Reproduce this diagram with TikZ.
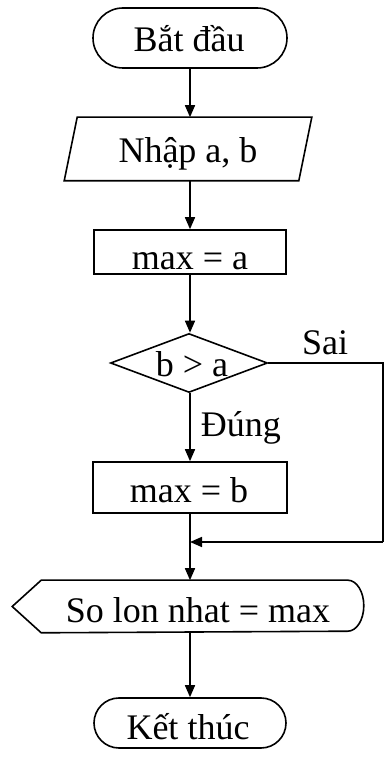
\documentclass[tikz,border=0pt]{standalone}
\usepackage{fontspec}
\setmainfont{Liberation Serif}
\usetikzlibrary{arrows.meta,shapes.misc,shapes.geometric}
\begin{document}
\begin{tikzpicture}[x=1pt,y=1pt,
  line width=1.6pt,
  arr/.style={-{Triangle[length=12pt,width=10pt]}},
  term/.style={rounded rectangle, draw, inner sep=0pt},
  procbox/.style={rectangle, draw, inner sep=0pt},
  decis/.style={diamond, draw, inner sep=0pt, aspect=2.66},
  blank/.style={rectangle, draw=none, inner sep=0pt},
  txt/.style={inner sep=0pt, font=\fontsize{36}{40}\selectfont}
]
\useasboundingbox (0,0) rectangle (384,758);

% shapes
\node[term, minimum width=194pt, minimum height=60pt] (start) at (190,720) {};
\node[blank, minimum width=233pt, minimum height=62pt] (inp) at (188,609) {};
\draw ([xshift=6.5pt]inp.north west) -- ([xshift=6.5pt]inp.north east)
  -- ([xshift=-6.5pt]inp.south east) -- ([xshift=-6.5pt]inp.south west) -- cycle;
\node[procbox, minimum width=192pt, minimum height=44pt] (box1) at (190,506) {};
\node[decis, minimum width=157pt, minimum height=59pt] (dia) at (189,395) {};
\node[procbox, minimum width=194pt, minimum height=51pt] (box2) at (190,270.5) {};
\node[blank, minimum width=350pt, minimum height=51pt] (out) at (188,151.5) {};
\draw (out.west) -- ([xshift=29pt]out.north west) -- ([xshift=-16pt]out.north east)
  arc[start angle=90, end angle=-90, x radius=16pt, y radius=25.5pt]
  -- ([xshift=29pt]out.south west) -- cycle;
\node[term, minimum width=192pt, minimum height=50pt] (stop) at (190,35) {};

% texts
\node[txt, anchor=base] (tstart) at (189,706) {Bắt đầu};
\node[txt, anchor=base] (tinp) at (188,595) {Nhập a, b};
\node[txt, anchor=base] (tbox1) at (190,488) {max = a};
\node[txt, anchor=base] (tdia) at (192,381) {b > a};
\node[txt, anchor=base] (tbox2) at (189,255) {max = b};
\node[txt, anchor=base] (tout) at (198,135) {So lon nhat = max};
\node[txt, anchor=base] (tstop) at (188,18) {Kết thúc};
\node[txt, anchor=base] (tsai) at (325,403) {Sai};
\node[txt, anchor=base west] (tdung) at (200,321) {Đúng};

% connectors
\coordinate (merge) at (190,216);
\coordinate (rtop) at (383,395);
\coordinate (rbot) at (383,216);
\draw[arr] (start.south) -- (start.south |- inp.north);
\draw[arr] (start.south |- inp.south) -- (box1.north);
\draw[arr] (box1.south) -- (box1.south |- dia.north);
\draw[arr] (box1.south |- dia.south) -- (box2.north);
\draw (dia.east) -- (rtop) -- (rbot);
\draw[arr] (rbot) -- (merge);
\draw (box2.south) -- (merge);
\draw[arr] (merge) -- (merge |- out.north);
\draw[arr] (stop.north |- out.south) -- (stop.north);
\end{tikzpicture}
\end{document}
